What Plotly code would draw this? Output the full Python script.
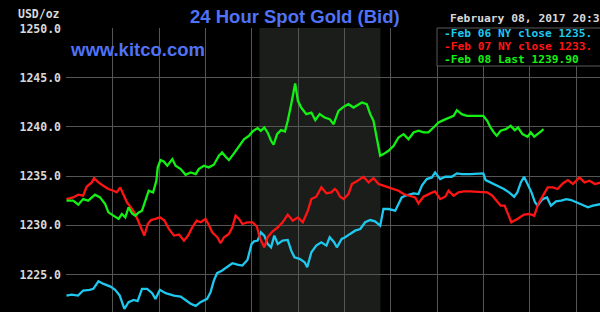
import plotly.graph_objects as go

# ---------------- data (hours since midnight NY, USD/oz) ----------------
feb06_hours = [0.0, 0.22, 0.5, 0.72, 1.0, 1.16, 1.38, 1.6, 1.9, 2.1, 2.3, 2.4, 2.5, 2.68, 2.9, 3.07, 3.26, 3.48,
               3.7, 3.84, 4.03, 4.28, 4.64, 4.93, 5.14, 5.36, 5.58, 5.78, 6.07, 6.22, 6.36, 6.5, 6.72, 6.94, 7.16,
               7.38, 7.59, 7.81, 7.99, 8.1, 8.25, 8.39, 8.54, 8.68, 8.83, 8.97, 9.12, 9.33, 9.55, 9.7, 9.84, 10.06,
               10.28, 10.39, 10.57, 10.78, 11.0, 11.22, 11.36, 11.55, 11.67, 11.88, 12.03, 12.24, 12.46, 12.68,
               12.89, 13.11, 13.32, 13.54, 13.68, 13.9, 14.19, 14.33, 14.47, 14.62, 14.83, 14.98, 15.19, 15.34,
               15.55, 15.77, 15.91, 16.13, 16.35, 16.63, 16.85, 17.06, 17.42, 17.99, 18.09, 18.3, 18.59, 18.88,
               19.1, 19.32, 19.46, 19.61, 19.75, 19.9, 20.07, 20.22, 20.33, 20.55, 20.74, 20.91, 21.13, 21.35,
               21.57, 21.78, 22.0, 22.22, 22.51, 22.72, 22.94, 23.09]
feb06_price = [1222.87, 1222.97, 1222.87, 1223.38, 1223.45, 1223.55, 1224.32, 1224.05, 1223.78, 1223.45, 1222.87,
               1222.2, 1221.52, 1222.2, 1222.43, 1222.3, 1223.55, 1223.55, 1223.11, 1222.53, 1223.45, 1223.11,
               1222.87, 1222.77, 1222.37, 1222.03, 1221.82, 1222.2, 1222.53, 1223.21, 1224.39, 1225.14, 1225.41,
               1225.74, 1226.15, 1226.01, 1225.91, 1226.49, 1228.11, 1228.38, 1228.45, 1229.29, 1228.96, 1228.11,
               1227.77, 1228.96, 1228.11, 1228.45, 1228.52, 1227.43, 1226.76, 1226.59, 1226.25, 1225.74, 1227.27,
               1227.94, 1228.28, 1227.94, 1228.79, 1228.28, 1227.77, 1228.62, 1228.79, 1229.13, 1229.46, 1229.63,
               1230.31, 1230.54, 1230.41, 1229.97, 1231.66, 1231.66, 1231.49, 1232.17, 1232.84, 1233.01, 1233.18,
               1233.25, 1233.18, 1234.03, 1234.7, 1234.87, 1235.38, 1234.7, 1234.94, 1234.94, 1235.28, 1235.21,
               1235.21, 1235.28, 1234.6, 1234.36, 1234.03, 1233.69, 1233.35, 1232.91, 1233.35, 1234.36, 1234.94,
               1234.2, 1233.35, 1232.34, 1232.0, 1232.67, 1232.84, 1232.0, 1232.44, 1232.51, 1232.67, 1232.57,
               1232.34, 1232.17, 1231.83, 1232.0, 1232.1, 1232.17]

feb07_hours = [0.0, 0.29, 0.51, 0.72, 0.87, 1.09, 1.19, 1.38, 1.59, 1.81, 2.03, 2.17, 2.32, 2.46, 2.61, 2.78, 2.97,
               3.12, 3.26, 3.36, 3.51, 3.65, 3.84, 4.03, 4.23, 4.42, 4.64, 4.86, 5.07, 5.25, 5.43, 5.62, 5.8, 6.0,
               6.14, 6.29, 6.51, 6.65, 6.8, 7.01, 7.16, 7.3, 7.45, 7.59, 7.81, 8.03, 8.22, 8.36, 8.54, 8.68, 8.9,
               9.12, 9.33, 9.55, 9.77, 9.99, 10.2, 10.42, 10.57, 10.78, 11.0, 11.22, 11.43, 11.58, 11.67, 11.81,
               11.96, 12.17, 12.32, 12.53, 12.82, 13.04, 13.25, 13.47, 13.68, 13.9, 14.12, 14.33, 14.55, 14.76,
               15.05, 15.19, 15.41, 15.7, 15.91, 16.13, 16.35, 16.49, 16.71, 16.92, 17.14, 17.42, 18.16, 18.38,
               18.59, 18.74, 18.91, 19.06, 19.2, 19.46, 19.75, 19.97, 20.19, 20.36, 20.55, 20.77, 20.99, 21.2,
               21.42, 21.64, 21.86, 22.14, 22.36, 22.58, 22.8, 23.09]
feb07_price = [1232.67, 1232.84, 1233.11, 1233.01, 1233.92, 1234.36, 1234.8, 1234.36, 1234.03, 1233.69, 1233.52,
               1233.35, 1233.86, 1233.11, 1232.34, 1231.83, 1231.15, 1230.31, 1229.46, 1228.96, 1230.14, 1230.54,
               1230.65, 1230.81, 1230.48, 1229.63, 1228.96, 1229.06, 1228.45, 1228.96, 1229.8, 1230.48, 1230.31,
               1230.65, 1230.07, 1229.29, 1228.79, 1228.18, 1228.79, 1229.13, 1229.8, 1230.98, 1230.65, 1230.14,
               1230.31, 1230.31, 1229.87, 1228.62, 1227.77, 1228.79, 1229.39, 1229.8, 1230.31, 1231.09, 1230.48,
               1230.81, 1230.31, 1231.49, 1232.67, 1232.91, 1233.86, 1233.25, 1233.35, 1233.69, 1233.52, 1232.91,
               1232.67, 1233.18, 1234.2, 1234.47, 1234.94, 1234.36, 1234.8, 1234.2, 1234.03, 1233.86, 1233.69,
               1233.52, 1233.18, 1233.01, 1232.84, 1232.24, 1232.91, 1233.25, 1233.45, 1232.67, 1232.91, 1233.52,
               1233.01, 1233.35, 1233.45, 1233.45, 1233.35, 1233.01, 1232.44, 1232.0, 1232.0, 1231.15, 1230.31,
               1230.65, 1231.09, 1231.15, 1230.98, 1232.17, 1233.01, 1233.86, 1233.86, 1233.69, 1234.26, 1234.6,
               1234.2, 1234.87, 1234.36, 1234.53, 1234.2, 1234.36]

feb08_hours = [0.0, 0.29, 0.51, 0.72, 0.94, 1.23, 1.45, 1.67, 1.81, 2.03, 2.25, 2.39, 2.54, 2.68, 2.83, 2.97, 3.12,
               3.26, 3.41, 3.55, 3.74, 3.88, 3.94, 4.06, 4.2, 4.35, 4.57, 4.71, 4.93, 5.14, 5.36, 5.58, 5.71, 5.93,
               6.14, 6.36, 6.58, 6.72, 6.87, 7.01, 7.23, 7.45, 7.67, 7.88, 8.03, 8.25, 8.39, 8.54, 8.68, 8.83, 8.94,
               9.09, 9.26, 9.43, 9.55, 9.7, 9.81, 9.87, 9.99, 10.13, 10.35, 10.57, 10.74, 10.93, 11.14, 11.36,
               11.53, 11.74, 11.96, 12.17, 12.39, 12.6, 12.75, 12.96, 13.11, 13.25, 13.39, 13.54, 13.68, 13.9,
               14.12, 14.33, 14.55, 14.76, 14.98, 15.19, 15.41, 15.62, 15.84, 16.06, 16.27, 16.49, 16.71, 16.85,
               17.06, 17.28, 17.99, 18.16, 18.3, 18.45, 18.57, 18.74, 18.96, 19.17, 19.35, 19.49, 19.68, 19.9,
               20.04, 20.19, 20.36, 20.48, 20.59]
feb08_price = [1232.51, 1232.51, 1232.1, 1232.67, 1232.51, 1233.11, 1232.84, 1232.17, 1231.32, 1230.98, 1230.65,
               1231.15, 1230.81, 1231.83, 1231.22, 1230.98, 1231.32, 1231.49, 1232.67, 1233.52, 1233.35, 1234.53,
               1235.89, 1236.63, 1236.49, 1236.06, 1236.73, 1236.06, 1235.72, 1235.14, 1235.38, 1235.21, 1235.72,
               1236.06, 1235.89, 1236.16, 1237.07, 1237.41, 1236.97, 1236.63, 1237.31, 1238.08, 1238.76, 1239.1,
               1239.54, 1239.88, 1239.6, 1239.94, 1239.44, 1238.59, 1238.19, 1239.27, 1239.67, 1239.54, 1240.62,
               1242.31, 1243.66, 1244.41, 1242.65, 1241.97, 1241.3, 1241.46, 1240.69, 1241.3, 1240.96, 1240.79,
               1240.28, 1241.63, 1242.04, 1242.31, 1241.97, 1242.31, 1242.48, 1242.31, 1241.3, 1240.62, 1238.76,
               1237.07, 1237.24, 1237.58, 1238.08, 1238.93, 1239.27, 1238.76, 1239.44, 1239.61, 1239.44, 1239.44,
               1239.94, 1240.45, 1240.69, 1240.89, 1241.13, 1241.7, 1241.3, 1241.13, 1241.13, 1240.62, 1239.94,
               1239.44, 1239.1, 1239.61, 1239.77, 1240.11, 1239.67, 1239.94, 1239.27, 1239.0, 1239.44, 1239.0,
               1239.27, 1239.54, 1239.77]

y_ticks = [1225.0, 1230.0, 1235.0, 1240.0, 1245.0, 1250.0]
session_start, session_end = 8.33, 13.55   # NY trading session (shaded)

# legend text as visible in the (cropped) original
legend_labels = ["Feb 06 NY close 1235.", "Feb 07 NY close 1233.", "Feb 08 Last 1239.90"]
series_colors = ["#1ec8ee", "#ff1414", "#14f014"]
title_text = "24 Hour Spot Gold (Bid)"
site_text = "www.kitco.com"
date_text = "February 08, 2017 20:3"
unit_text = "USD/oz"

# ---------------- layout geometry ----------------
W, H = 600, 312
ML, MT = 66, 28
PW, PH = W - ML, H - MT


def px(x):   # figure pixel -> paper x
    return (x - ML) / PW


def py(y):   # figure pixel -> paper y
    return (H - y) / PH


mono = "DejaVu Sans Mono"
blue = "#5072f5"
fig = go.Figure()

for hrs, vals, col in zip([feb06_hours, feb07_hours, feb08_hours],
                          [feb06_price, feb07_price, feb08_price], series_colors):
    fig.add_trace(go.Scatter(x=hrs, y=vals, mode="lines",
                             line=dict(color=col, width=2.3), hoverinfo="skip", showlegend=False))

# shaded session
fig.add_shape(type="rect", xref="x", yref="paper", x0=session_start, x1=session_end, y0=0, y1=1,
              fillcolor="#1b1d1b", line_width=0, layer="below")
# legend box
fig.add_shape(type="rect", xref="paper", yref="paper", x0=px(437), x1=px(605), y0=py(66), y1=py(28),
              fillcolor="#000000", line=dict(color="#5a5a5a", width=1), layer="above")

annotations = [
    dict(text=unit_text, x=px(62), y=py(14), xanchor="right", yanchor="middle",
         font=dict(family=mono, size=11.5, color="#d8d8d8", weight="bold")),
    dict(text=title_text, x=px(295), y=py(16), xanchor="center", yanchor="middle",
         font=dict(family="Liberation Sans", size=18.5, color=blue, weight="bold")),
    dict(text=site_text, x=px(68), y=py(49), xanchor="left", yanchor="middle",
         font=dict(family="Liberation Sans", size=18.5, color=blue, weight="bold")),
    dict(text=date_text, x=px(448), y=py(18), xanchor="left", yanchor="middle",
         font=dict(family=mono, size=11.3, color="#d8d8d8", weight="bold")),
]
for i, (lab, col) in enumerate(zip(legend_labels, series_colors)):
    annotations.append(dict(text="-" + lab, x=px(442), y=py(34 + 12.8 * i), xanchor="left", yanchor="middle",
                            font=dict(family=mono, size=11.2, color=col, weight="bold")))
for a in annotations:
    a.update(xref="paper", yref="paper", showarrow=False)

fig.update_layout(
    width=W, height=H,
    margin=dict(l=ML, r=0, t=MT, b=0, pad=0),
    paper_bgcolor="#000000", plot_bgcolor="#000000",
    annotations=annotations,
    xaxis=dict(range=[-0.02, PW / 23.17 - 0.02], dtick=2, tick0=0, showticklabels=False,
               showgrid=True, gridcolor="#555555", gridwidth=1, zeroline=False, ticks=""),
    yaxis=dict(range=[1250 - PH / 9.86, 1250.05], tickvals=y_ticks,
               ticktext=["%.1f" % v for v in y_ticks], showgrid=True, gridcolor="#555555",
               gridwidth=1, zeroline=False, ticks="", ticklabelstandoff=4,
               tickfont=dict(family=mono, size=11.5, color="#d8d8d8", weight="bold")),
)

fig.write_html("out.html")
